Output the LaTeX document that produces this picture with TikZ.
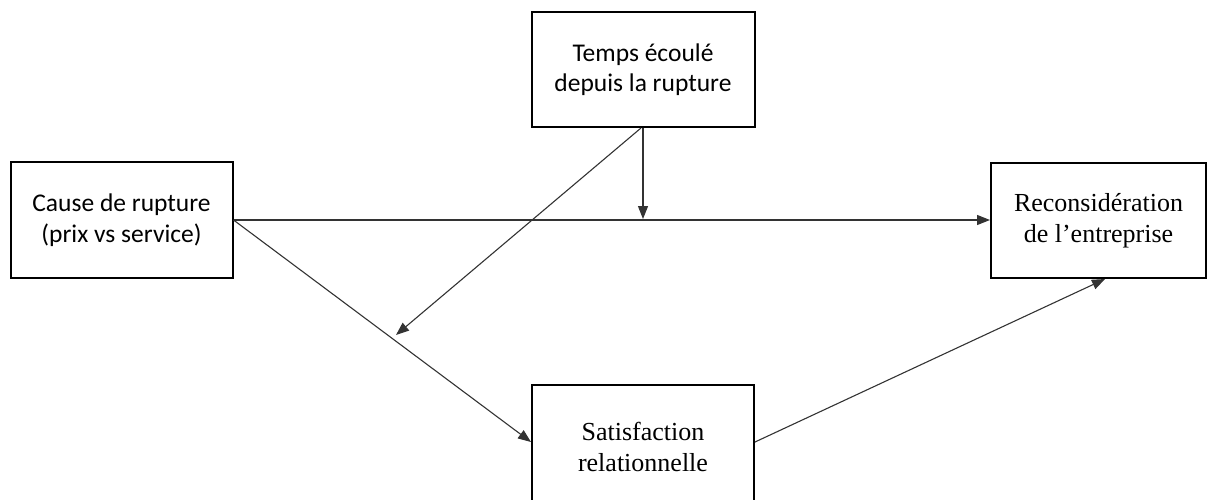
\documentclass[tikz,border=0pt]{standalone}
\usepackage{fontspec}
\setmainfont{Liberation Serif}
\newfontfamily\calfont{Carlito}
\usetikzlibrary{arrows.meta,calc}
\tikzset{
  boxnode/.style={draw=black, line width=2pt, align=center, inner sep=0pt},
  calbox/.style={boxnode, font=\calfont\fontsize{25.5pt}{30.5pt}\selectfont},
  serbox/.style={boxnode, font=\fontsize{26pt}{30.5pt}\selectfont},
  conn/.style={draw=black!80, line width=1.1pt, -{Triangle[length=13pt,width=10pt]}},
  plain/.style={draw=black!80, line width=1.1pt}
}
\begin{document}
\begin{tikzpicture}[x=1pt,y=-1pt]
\useasboundingbox (0,0) rectangle (1208,499);
\clip (0,0) rectangle (1208,499);
\node[calbox, minimum width=222pt, minimum height=116pt] (cause) at (121.5,220) {Cause de rupture\\(prix vs service)};
\node[calbox, minimum width=223pt, minimum height=115pt] (temps) at (643,69.5) {Temps écoulé\\depuis la rupture};
\node[serbox, minimum width=215pt, minimum height=115pt] (recon) at (1098.5,220.5) {Reconsidération\\de l’entreprise};
\node[serbox, minimum width=222pt, minimum height=124pt, text depth=0pt] (sat) at (643,447) {Satisfaction\\relationnelle};
\coordinate (modpt) at (396,335);
\draw[conn] (cause.east) -- (cause.east -| recon.west);
\draw[conn] (temps.south) -- ($(temps.south |- cause.east)+(0,-1)$);
\draw[conn] ([xshift=-2pt]temps.south) -- (modpt);
\draw[conn] (cause.east) -- ([yshift=5pt]sat.west);
\draw[conn] ([yshift=5pt]sat.east) -- ([xshift=6.5pt]recon.south);
\end{tikzpicture}
\end{document}
